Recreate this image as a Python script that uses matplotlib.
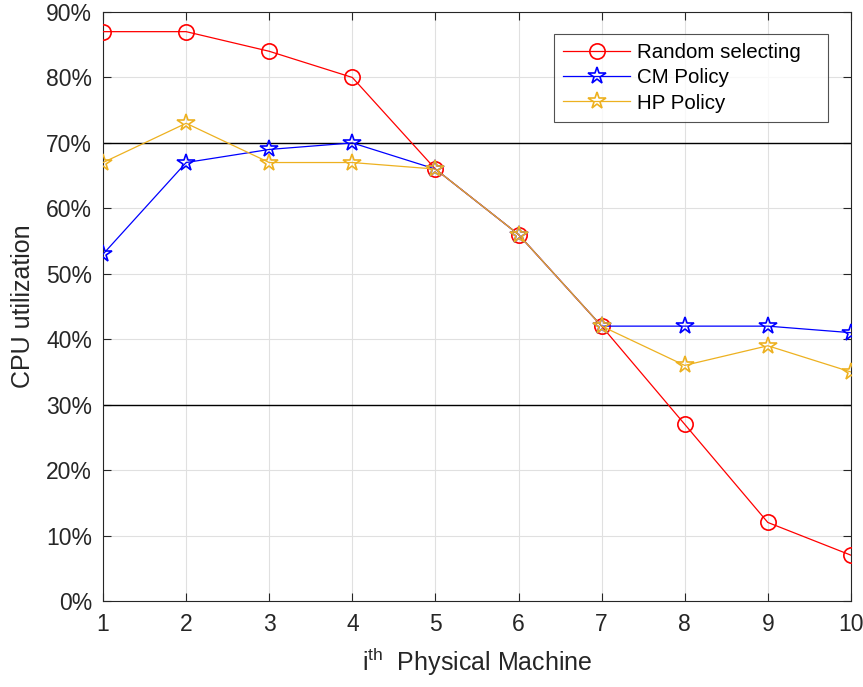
import numpy as np
import matplotlib.pyplot as plt
from matplotlib.ticker import PercentFormatter

plt.rcParams['font.family'] = ['Liberation Sans', 'DejaVu Sans']

machines = [1, 2, 3, 4, 5, 6, 7, 8, 9, 10]
random_sel = [87, 87, 84, 80, 66, 56, 42, 27, 12, 7]
cm_policy = [53, 67, 69, 70, 66, 56, 42, 42, 42, 41]
hp_policy = [67, 73, 67, 67, 66, 56, 42, 36, 39, 35]
thresholds = [70, 30]

fig = plt.figure(figsize=(8.63, 6.87), dpi=100)
ax = fig.add_axes([0.1194, 0.1252, 0.8666, 0.8573])

# trailing spaces give the wider right margin of the matlab legend box
ax.plot(machines, random_sel, color='#ff0000', lw=0.9, marker='o', ms=11,
        mfc='none', mew=1.2, label='Random selecting   ', zorder=3)
ax.plot(machines, cm_policy, color='#0000ff', lw=0.9, marker='*', ms=13,
        mfc='none', mew=1.2, label='CM Policy', zorder=4)
ax.plot(machines, hp_policy, color='#edb120', lw=0.9, marker='*', ms=13,
        mfc='none', mew=1.2, label='HP Policy', zorder=5)
for t in thresholds:
    ax.axhline(t, color='black', lw=1.0, zorder=2)

ax.set_xlim(1, 10)
ax.set_ylim(0, 90)
ax.set_xticks(machines)
ax.set_yticks(np.arange(0, 91, 10))
ax.yaxis.set_major_formatter(PercentFormatter(decimals=0))
ax.grid(True, color='#e0e0e0', lw=0.8, zorder=0)
ax.set_axisbelow(True)
ax.tick_params(direction='in', labelsize=16.5, length=6, colors='#262626',
               top=True, right=True)
ax.tick_params(axis='x', pad=9)
ax.tick_params(axis='y', pad=8)
for s in ax.spines.values():
    s.set_color('#262626')
    s.set_linewidth(0.8)

ax.set_xlabel('i$^{\\mathregular{th}}$  Physical Machine', fontsize=18,
              color='#262626', labelpad=7)
ax.set_ylabel('CPU utilization', fontsize=18, color='#262626', labelpad=8)

leg = ax.legend(loc='upper right', bbox_to_anchor=(0.969, 0.9626), fontsize=14.8,
                frameon=True, fancybox=False, edgecolor='#262626',
                borderaxespad=0, handlelength=3.25, borderpad=0.45,
                labelspacing=0.3, handletextpad=0.35)
leg.get_frame().set_linewidth(0.8)

fig.savefig('out.png', dpi=100)
